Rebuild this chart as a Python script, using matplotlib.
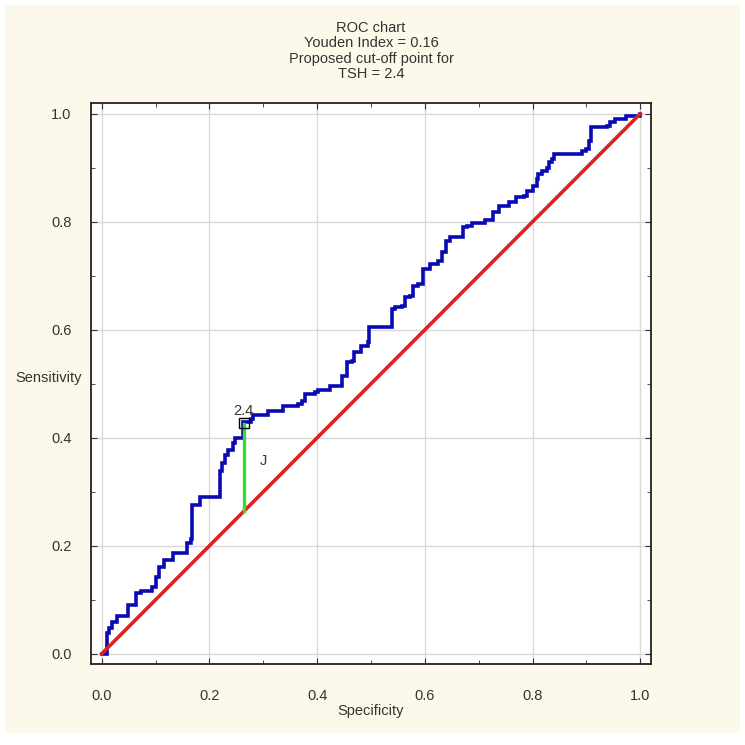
import matplotlib
matplotlib.use("Agg")

import matplotlib.pyplot as plt
from matplotlib.patches import Rectangle
from matplotlib.ticker import MultipleLocator, FormatStrFormatter

# ROC curve vertices (1 - specificity, sensitivity)
spec = [0.0, 0.009, 0.013, 0.019, 0.028, 0.046, 0.048, 0.059, 0.063, 0.072,
        0.089, 0.094, 0.100, 0.106, 0.115, 0.131, 0.133, 0.156, 0.159, 0.165,
        0.167, 0.180, 0.183, 0.215, 0.219, 0.224, 0.228, 0.235, 0.244, 0.248,
        0.261, 0.263, 0.278, 0.281, 0.294, 0.307, 0.309, 0.331, 0.337, 0.365,
        0.372, 0.378, 0.396, 0.402, 0.419, 0.424, 0.441, 0.446, 0.456, 0.465,
        0.469, 0.476, 0.481, 0.494, 0.496, 0.539, 0.539, 0.544, 0.557, 0.563,
        0.572, 0.578, 0.587, 0.596, 0.604, 0.609, 0.624, 0.631, 0.639, 0.646,
        0.661, 0.670, 0.678, 0.687, 0.698, 0.711, 0.720, 0.726, 0.737, 0.752,
        0.756, 0.770, 0.770, 0.785, 0.789, 0.800, 0.809, 0.811, 0.817, 0.826,
        0.830, 0.837, 0.839, 0.883, 0.891, 0.900, 0.904, 0.909, 0.939, 0.943,
        0.952, 0.954, 0.970, 0.974, 0.989, 1.0]
sens = [0.0, 0.039, 0.048, 0.058, 0.070, 0.070, 0.091, 0.091, 0.113, 0.117,
        0.117, 0.124, 0.143, 0.161, 0.174, 0.174, 0.187, 0.187, 0.206, 0.213,
        0.276, 0.276, 0.291, 0.291, 0.338, 0.354, 0.369, 0.378, 0.391, 0.399,
        0.399, 0.429, 0.434, 0.443, 0.443, 0.443, 0.449, 0.449, 0.458, 0.462,
        0.469, 0.481, 0.484, 0.488, 0.488, 0.495, 0.495, 0.514, 0.540, 0.542,
        0.558, 0.558, 0.570, 0.577, 0.605, 0.605, 0.638, 0.642, 0.644, 0.660,
        0.662, 0.681, 0.685, 0.712, 0.712, 0.722, 0.727, 0.744, 0.764, 0.772,
        0.772, 0.790, 0.792, 0.798, 0.798, 0.803, 0.803, 0.818, 0.829, 0.829,
        0.837, 0.837, 0.846, 0.848, 0.857, 0.866, 0.879, 0.889, 0.894, 0.900,
        0.911, 0.917, 0.926, 0.926, 0.931, 0.935, 0.950, 0.976, 0.978, 0.985,
        0.985, 0.991, 0.991, 0.996, 0.996, 1.0]

diag = [0.0, 1.0]
cut_x = 0.265
cut_y = 0.427
cut_label = "2.4"
youden = 0.16
title_lines = ["ROC chart", "Youden Index = 0.16", "Proposed cut-off point for", "TSH = 2.4"]

plt.rcParams["font.family"] = ["Liberation Sans Narrow", "Liberation Sans", "DejaVu Sans"]

fig = plt.figure(figsize=(7.45, 7.45), dpi=100)
fig.patch.set_facecolor("white")

# cream panel behind everything
fig.patches.append(Rectangle((5 / 745, 12 / 745), 735 / 745, 728 / 745,
                             transform=fig.transFigure, facecolor="#fdf9ea",
                             edgecolor="none", zorder=-10))

ax = fig.add_axes([91 / 745, 1 - 664 / 745, 560 / 745, 561 / 745])
ax.set_facecolor("white")
ax.set_xlim(-0.02, 1.02)
ax.set_ylim(-0.019, 1.02)

ax.xaxis.set_major_locator(MultipleLocator(0.2))
ax.yaxis.set_major_locator(MultipleLocator(0.2))
ax.xaxis.set_minor_locator(MultipleLocator(0.1))
ax.yaxis.set_minor_locator(MultipleLocator(0.1))
ax.tick_params(which="both", direction="in", top=True, right=True, color="#333333")
ax.tick_params(which="major", length=4, labelsize=10.5, labelcolor="#333333")
ax.tick_params(which="minor", length=3)
ax.tick_params(axis="x", pad=18)
ax.tick_params(axis="y", pad=14)
ax.xaxis.set_major_formatter(FormatStrFormatter("%.1f"))
ax.yaxis.set_major_formatter(FormatStrFormatter("%.1f"))
ax.grid(True, which="major", color="#d9d9d9", linewidth=1.0)
ax.set_axisbelow(True)
for s in ax.spines.values():
    s.set_color("#222222")
    s.set_linewidth(1.3)

ax.plot(spec, sens, color="#0a0ab4", linewidth=2.6, drawstyle="steps-post",
        solid_joinstyle="miter", zorder=3)
ax.plot(diag, diag, color="#dd2222", linewidth=2.6, zorder=4)
ax.plot([cut_x, cut_x], [cut_x, cut_x + youden], color="#33dd33", linewidth=2.4, zorder=5)
ax.plot([cut_x], [cut_y], marker="s", markersize=7, markerfacecolor="none",
        markeredgecolor="black", markeredgewidth=1.0, zorder=6)
ax.text(cut_x - 0.002, cut_y + 0.01, cut_label, fontsize=10.5, color="#333333",
        ha="center", va="bottom", zorder=7)
ax.text(cut_x + 0.035, 0.357, "J", fontsize=10.5, color="#333333",
        ha="center", va="center", zorder=7)

fig.text(371 / 745, 1 - 51 / 745, "\n".join(title_lines), ha="center", va="center",
         fontsize=10.5, color="#333333", linespacing=1.15)
fig.text(15 / 745, 1 - 378 / 745, "Sensitivity", ha="left", va="center",
         fontsize=10.5, color="#333333")
fig.text(371 / 745, 1 - 711 / 745, "Specificity", ha="center", va="center",
         fontsize=10.5, color="#333333")

fig.savefig("out.png", dpi=100)
